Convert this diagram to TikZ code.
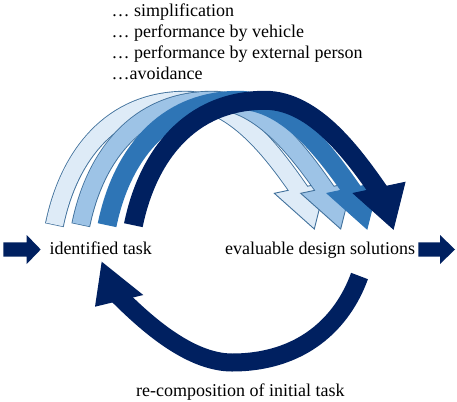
\documentclass[tikz,border=0pt]{standalone}
\usepackage{fontspec}
\setmainfont{Liberation Serif}
\definecolor{cA}{HTML}{DEEBF7}
\definecolor{cB}{HTML}{9DC3E6}
\definecolor{cC}{HTML}{2E75B6}
\definecolor{cD}{HTML}{002060}
\definecolor{cO}{HTML}{41719C}
\tikzset{
  lbl/.style={inner sep=0pt, anchor=base west, font=\fontsize{18}{21}\selectfont},
  blockarrow/.style={fill=cD, draw=none},
}
\begin{document}
\begin{tikzpicture}[x=1pt, y=-1pt]
\useasboundingbox (0,0) rectangle (457,401);
% four stacked upper arcs (light to dark)
\foreach \s/\f/\o in {-79/cA/cO, -52.6/cB/cO, -26.3/cC/cC, 0/cD/cD}{
  \begin{scope}[xshift=\s pt]
    \draw[color=\o, line width=19pt, shorten <=-0.7pt]
      (133.5,224.5) .. controls (147.5,155.9) and (190,100.3) .. (265,100.3)
      .. controls (315,100.3) and (354.85,156.6) .. (380.5,193.5);
    \filldraw[fill=\f, draw=\o, line width=0.9pt, line join=miter]
      (353.3,193.3) -- (405,182.3) -- (393.3,229) -- cycle;
    \draw[color=\f, line width=17.2pt]
      (133.5,224.5) .. controls (147.5,155.9) and (190,100.3) .. (265,100.3)
      .. controls (315,100.3) and (354.85,156.6) .. (380.5,193.5);
  \end{scope}
}
% lower return arc
\draw[cD, line width=18pt]
  (359.5,276) .. controls (342.5,323) and (302,362.5) .. (232,362.5)
  .. controls (187,362.5) and (140.7,318) .. (116,293.3);
\fill[cD] (95,306.7) -- (143.3,295) -- (101.7,261.7) -- cycle;
% block arrows
\fill[blockarrow] (3.3,242.3) -- (26.7,242.3) -- (26.7,235) -- (40.7,249.5) -- (26.7,264) -- (26.7,256.7) -- (3.3,256.7) -- cycle;
\fill[blockarrow] (418.3,242.3) -- (440,242.3) -- (440,235) -- (455,249.5) -- (440,264) -- (440,256.7) -- (418.3,256.7) -- cycle;
% labels
\node[lbl] (t1) at (111.5,16.7) {… simplification};
\node[lbl] (t2) at (111.5,37.8) {… performance by vehicle};
\node[lbl] (t3) at (111.5,58.9) {… performance by external person};
\node[lbl] (t4) at (111.5,80) {…avoidance};
\node[lbl] (task) at (49.3,254.3) {identified task};
\node[lbl] (sol) at (225,254.3) {evaluable design solutions};
\node[lbl] (rec) at (136,396) {re-composition of initial task};
\end{tikzpicture}
\end{document}
